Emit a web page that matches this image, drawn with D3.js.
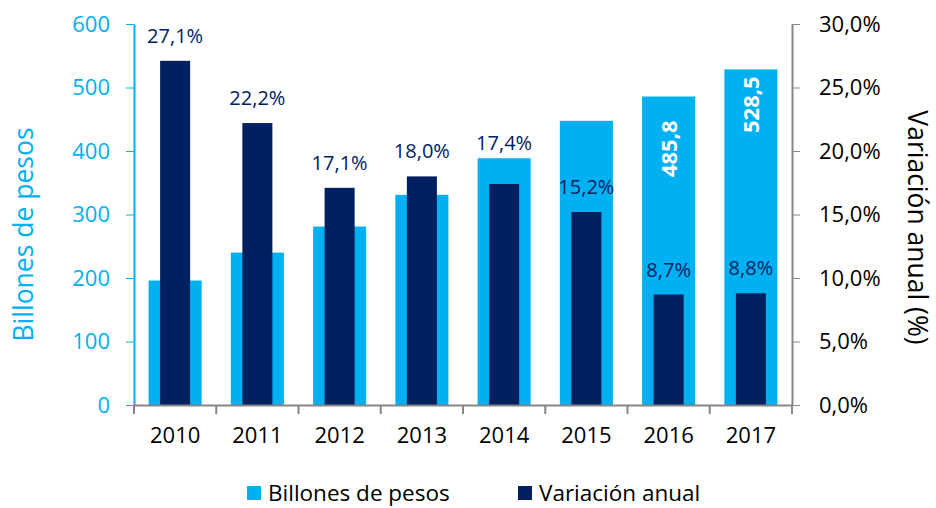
<!DOCTYPE html>
<html lang="es">
<head>
    <meta charset="UTF-8">
    <title>Billones de pesos y variación anual</title>
    <script src="https://d3js.org/d3.v7.min.js"></script>
    <style>
        body { margin: 0; background: #fff; }
        svg { display: block; }
        text { font-family: "Open Sans", sans-serif; }
        .domain { stroke-width: 2px; }
    </style>
</head>
<body>
    <script>
        const years = ["2010", "2011", "2012", "2013", "2014", "2015", "2016", "2017"];
        const billones = [196, 240, 281, 331, 388.6, 447.5, 485.8, 528.5];
        const variacion = [0.271, 0.222, 0.171, 0.180, 0.174, 0.152, 0.087, 0.088];
        const leftTicks = [0, 100, 200, 300, 400, 500, 600];
        const rightTicks = [0, 0.05, 0.10, 0.15, 0.20, 0.25, 0.30];
        const shownBillones = ["2016", "2017"];   // years whose value is written in the bar

        const width = 936, height = 508;
        const lightBlue = "#00b0f0", navy = "#002060", gray = "#868686";

        const data = years.map((y, i) => ({ year: y, b: billones[i], v: variacion[i] }));

        const svg = d3.select("body").append("svg")
            .attr("width", width)
            .attr("height", height);

        const x = d3.scaleBand().domain(years).range([134, 792]).padding(0);
        const yL = d3.scaleLinear().domain([0, 600]).range([405, 24]);
        const yR = d3.scaleLinear().domain([0, 0.30]).range([405, 24]);

        const wLight = x.bandwidth() * 0.645;
        const wDark = x.bandwidth() * 0.365;
        const cx = d => x(d.year) + x.bandwidth() / 2;
        const fmtPct = d3.format(".1%");
        const comma = s => s.replace(".", ",");

        // light bars
        svg.append("g").selectAll("rect")
            .data(data).join("rect")
            .attr("x", d => cx(d) - wLight / 2)
            .attr("y", d => yL(d.b))
            .attr("width", wLight)
            .attr("height", d => yL(0) - yL(d.b))
            .attr("fill", lightBlue);

        // dark bars
        svg.append("g").selectAll("rect")
            .data(data).join("rect")
            .attr("x", d => cx(d) - wDark / 2)
            .attr("y", d => yR(d.v))
            .attr("width", wDark)
            .attr("height", d => yR(0) - yR(d.v))
            .attr("fill", navy);

        // values inside light bars
        const insidePad = { "2016": 24, "2017": 7 };
        svg.append("g").selectAll("text")
            .data(data.filter(d => shownBillones.includes(d.year))).join("text")
            .attr("transform", d => `translate(${cx(d) + 8},${yL(d.b) + insidePad[d.year]}) rotate(-90)`)
            .attr("text-anchor", "end")
            .attr("fill", "#fff")
            .attr("font-weight", "bold")
            .attr("font-size", 22)
            .text(d => comma(d.b.toFixed(1)));

        // percentage labels
        svg.append("g").selectAll("text")
            .data(data).join("text")
            .attr("x", cx)
            .attr("y", d => d.year === "2014" ? yL(d.b) - 8 : yR(d.v) - 18)
            .attr("text-anchor", "middle")
            .attr("fill", navy)
            .attr("font-size", 20)
            .text(d => comma(fmtPct(d.v)));

        // left axis
        const gL = svg.append("g")
            .attr("transform", "translate(134,0)")
            .call(d3.axisLeft(yL).tickValues(leftTicks).tickSize(8).tickSizeOuter(0).tickPadding(16));
        gL.selectAll("line, path").attr("stroke", lightBlue);
        gL.selectAll("text").attr("fill", lightBlue).attr("font-size", 22).style("font-family", "Open Sans");

        // right axis
        const gR = svg.append("g")
            .attr("transform", "translate(792,0)")
            .call(d3.axisRight(yR).tickValues(rightTicks).tickSize(8).tickSizeOuter(0).tickPadding(19)
                .tickFormat(d => comma(fmtPct(d))));
        gR.selectAll("line, path").attr("stroke", gray);
        gR.selectAll("text").attr("fill", "#000").attr("font-size", 22).style("font-family", "Open Sans");

        // x axis
        const gX = svg.append("g")
            .attr("transform", "translate(0,405)")
            .call(d3.axisBottom(x).tickSize(0).tickPadding(22));
        gX.select(".domain").attr("stroke", gray);
        gX.selectAll("text").attr("fill", "#000").attr("font-size", 22).style("font-family", "Open Sans");
        gX.selectAll(".tick-sep")
            .data(d3.range(years.length + 1)).join("line")
            .attr("x1", i => x.range()[0] + i * x.step())
            .attr("x2", i => x.range()[0] + i * x.step())
            .attr("y1", 0).attr("y2", 9)
            .attr("stroke", gray).attr("stroke-width", 2);

        // axis titles
        svg.append("text")
            .attr("transform", `translate(33,${(yL(0) + yL(600)) / 2 + 20}) rotate(-90)`)
            .attr("text-anchor", "middle")
            .attr("fill", lightBlue)
            .attr("font-size", 26.5)
            .text("Billones de pesos");

        svg.append("text")
            .attr("transform", `translate(908,${(yR(0) + yR(0.3)) / 2 + 13}) rotate(90)`)
            .attr("text-anchor", "middle")
            .attr("fill", "#000")
            .attr("font-size", 26.5)
            .text("Variación anual (%)");

        // legend
        const legend = [
            { label: "Billones de pesos", color: lightBlue, x: 247 },
            { label: "Variación anual", color: navy, x: 518 }
        ];
        const lg = svg.append("g").selectAll("g")
            .data(legend).join("g")
            .attr("transform", d => `translate(${d.x},486)`);
        lg.append("rect").attr("width", 14).attr("height", 14).attr("fill", d => d.color);
        lg.append("text")
            .attr("x", 21).attr("y", 15)
            .attr("font-size", 22.5)
            .attr("fill", "#000")
            .text(d => d.label);
    </script>
</body>
</html>
